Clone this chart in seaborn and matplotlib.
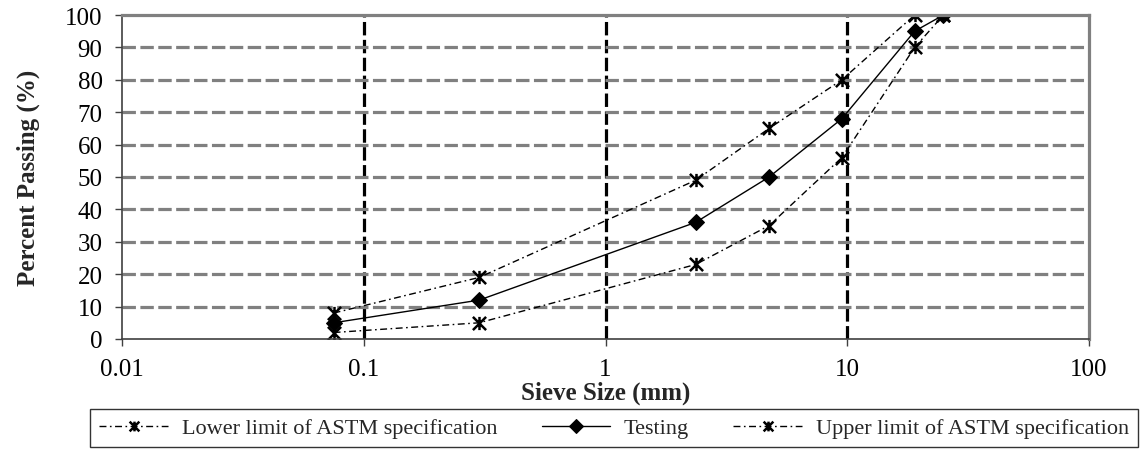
import numpy as np
import pandas as pd
import matplotlib
matplotlib.use("Agg")
import matplotlib.pyplot as plt
from matplotlib.path import Path
import seaborn as sns

# sieve sizes (mm) and percent passing
sieve_mm = [0.075, 0.3, 2.36, 4.75, 9.5, 19, 25]
lower_limit = [2, 5, 23, 35, 56, 90, 100]
testing = [5, 12, 36, 50, 68, 95, 100]
upper_limit = [8, 19, 49, 65, 80, 100, 100]

x_ticks = [0.01, 0.1, 1, 10, 100]
x_tick_labels = ["0.01", "0.1", "1", "10", "100"]
y_ticks = list(range(0, 101, 10))

df = pd.DataFrame({"sieve": sieve_mm, "lower": lower_limit,
                   "testing": testing, "upper": upper_limit})

sns.set_theme(style="ticks")
plt.rcParams["font.family"] = ["Liberation Serif", "DejaVu Serif"]

# excel-like star marker: an X with a vertical bar
star = Path([(-1, -1), (1, 1), (-1, 1), (1, -1), (0, -1), (0, 1)],
            [Path.MOVETO, Path.LINETO, Path.MOVETO, Path.LINETO, Path.MOVETO, Path.LINETO])
dashdot = (0, (5, 2.5, 1.2, 2.5))

fig = plt.figure(figsize=(11.45, 4.52), dpi=100)
ax = fig.add_axes([0.1066, 0.2478, 0.8445, 0.7168])

sns.lineplot(data=df, x="sieve", y="lower", ax=ax, color="black", lw=1,
             linestyle=dashdot, marker=star, markersize=9.5, mew=1.8,
             mfc="none", mec="black", sort=False, label="Lower limit of ASTM specification")
sns.lineplot(data=df, x="sieve", y="testing", ax=ax, color="black", lw=1,
             marker="D", markersize=8, mfc="black", mec="black",
             sort=False, label="Testing")
sns.lineplot(data=df, x="sieve", y="upper", ax=ax, color="black", lw=1,
             linestyle=dashdot, marker=star, markersize=9.5, mew=1.8,
             mfc="none", mec="black", sort=False, label="Upper limit of ASTM specification")

ax.set_xscale("log")
ax.set_xlim(0.01, 100)
ax.set_ylim(0, 100)
ax.set_xticks(x_ticks, x_tick_labels)
ax.minorticks_off()
ax.set_yticks(y_ticks)

ax.set_axisbelow(True)
ax.yaxis.grid(True, color="#808080", linestyle=(0, (4.2, 1.4)), lw=2.3)
ax.xaxis.grid(True, color="black", linestyle=(0, (4.2, 1.4)), lw=2.3)
for gl in [ax.get_ygridlines()[0], ax.get_ygridlines()[-1],
           ax.get_xgridlines()[0], ax.get_xgridlines()[-1]]:
    gl.set_visible(False)

for side in ["top", "right"]:
    ax.spines[side].set_color("#808080")
    ax.spines[side].set_linewidth(2.3)
for side in ["left", "bottom"]:
    ax.spines[side].set_color("#404040")
    ax.spines[side].set_linewidth(1.2)

ax.tick_params(axis="both", direction="out", length=5, width=1, color="#404040",
               labelsize=18, labelcolor="black")
ax.tick_params(axis="y", pad=9)
ax.tick_params(axis="x", pad=9)

ax.set_xlabel("Sieve Size (mm)", fontsize=18, fontweight="bold", labelpad=0)
ax.set_ylabel("Percent Passing (%)", fontsize=18, fontweight="bold", labelpad=18)

ax.get_legend().remove()
handles, labels = ax.get_legend_handles_labels()
leg = fig.legend(handles, labels, ncol=3, loc="center",
                 bbox_to_anchor=(614 / 1145, 23 / 452),
                 fontsize=16, frameon=True, fancybox=False,
                 edgecolor="black", handlelength=3.1, borderaxespad=0,
                 handletextpad=0.6, columnspacing=2.0, borderpad=0.4)
leg.get_frame().set_linewidth(1)
for h in leg.legend_handles:
    h.set_markersize(7)

fig.savefig("out.png", dpi=100)
